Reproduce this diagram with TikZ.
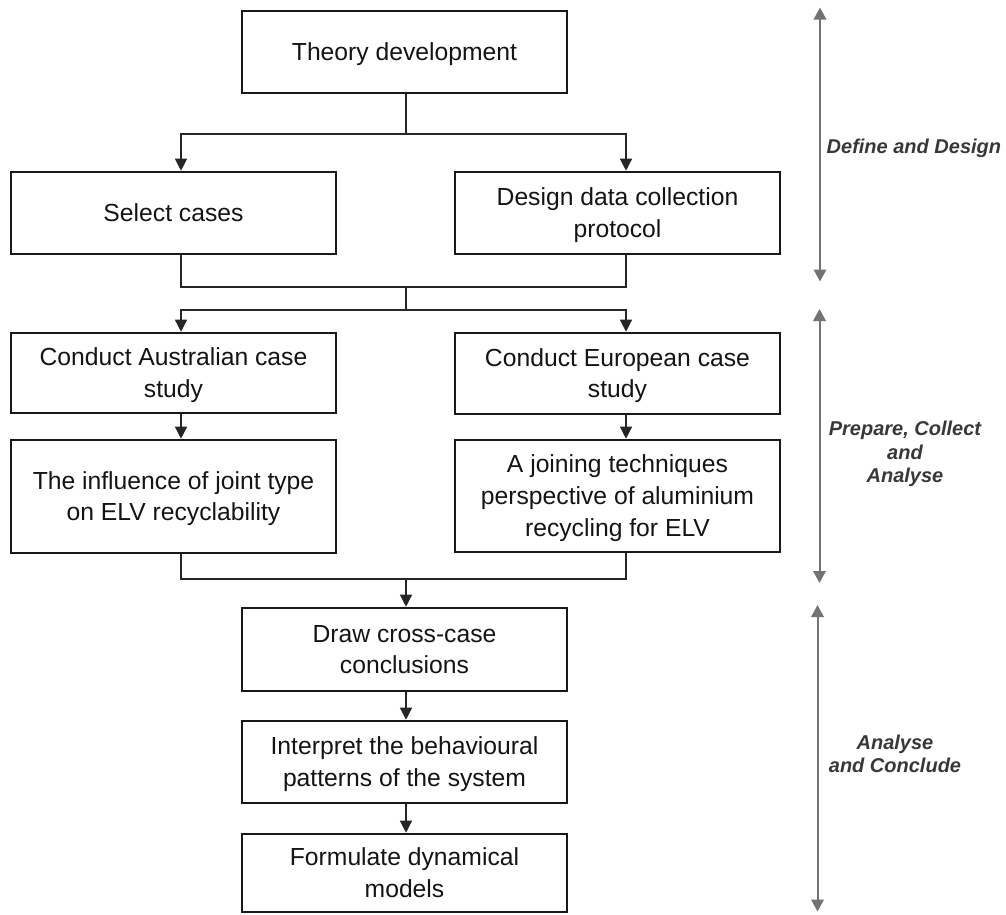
\documentclass[tikz,border=0pt]{standalone}
\usepackage{fontspec}
\setmainfont{Liberation Sans}
\usetikzlibrary{arrows.meta,calc}

% line strut with the font's own ascent and descent
\newcommand\ls{\rule[-5.2pt]{0pt}{27.6pt}}

\begin{document}
\begin{tikzpicture}[x=1pt,y=-1pt,
  stepbox/.style={draw=black!90, line width=2.6pt, align=center,
    font=\fontsize{24.7}{31.7}\selectfont, text=black!92, inner sep=0pt,
    minimum width=325pt},
  link/.style={line width=1.3pt, draw=black!85},
  flow/.style={link, -{Triangle[width=12pt,length=12pt]}},
  phase/.style={draw=black!55, line width=2pt,
    {Triangle[width=12.5pt,length=12pt]}-{Triangle[width=12.5pt,length=12pt]}},
  phasetext/.style={font=\fontsize{20}{23.3}\selectfont\bfseries\itshape,
    text=black!78, align=center, inner sep=0pt}]

\useasboundingbox (0,0) rectangle (1006,914);

% process boxes
\node[stepbox, minimum height=82pt] (theory) at (404.5,52) {\ls Theory development};
\node[stepbox, minimum height=82pt] (sel) at (173.5,213) {\ls Select cases};
\node[stepbox, minimum height=82pt] (design) at (617.5,213) {\ls Design data collection\\\ls protocol};
\node[stepbox, minimum height=80pt] (aus) at (173.5,373) {\ls Conduct Australian case\\\ls study};
\node[stepbox, minimum height=81pt] (euro) at (617.5,373.5) {\ls Conduct European case\\\ls study};
\node[stepbox, minimum height=113pt] (infl) at (173.5,496.5) {\ls The influence of joint type\\\ls on ELV recyclability};
\node[stepbox, minimum height=112pt] (join) at (617.5,496) {\ls A joining techniques\\\ls perspective of aluminium\\\ls recycling for ELV};
\node[stepbox, minimum height=83pt] (cross) at (404.5,649.5) {\ls Draw cross-case\\\ls conclusions};
\node[stepbox, minimum height=82pt] (interp) at (404.5,762) {\ls Interpret the behavioural\\\ls patterns of the system};
\node[stepbox, minimum height=78pt] (form) at (404.5,873) {\ls Formulate dynamical\\\ls models};

% connector columns and split levels
\coordinate (cL) at (181,0);
\coordinate (cR) at (626,0);
\coordinate (cC) at (406,0);
\coordinate (s1) at (0,134);
\coordinate (s2) at (0,287);
\coordinate (s3) at (0,310);
\coordinate (s4) at (0,579);

% theory -> two branches
\draw[link] (theory.south -| cC) -- (cC |- s1);
\draw[flow] (cC |- s1) -| (sel.north -| cL);
\draw[flow] (cC |- s1) -| (design.north -| cR);

% join and split into the case studies
\draw[link] (sel.south -| cL) |- (cR |- s2) -- (design.south -| cR);
\draw[link] (cC |- s2) -- (cC |- s3);
\draw[flow] (cC |- s3) -| (aus.north -| cL);
\draw[flow] (cC |- s3) -| (euro.north -| cR);

% case study columns
\draw[flow] (aus.south -| cL) -- (infl.north -| cL);
\draw[flow] (euro.south -| cR) -- (join.north -| cR);

% merge into the cross-case chain
\draw[link] (infl.south -| cL) |- (cR |- s4) -- (join.south -| cR);
\draw[flow] (cC |- s4) -- (cross.north -| cC);
\draw[flow] (cross.south -| cC) -- (interp.north -| cC);
\draw[flow] (interp.south -| cC) -- (form.north -| cC);

% phase spans
\coordinate (p1a) at (820,7.5);
\coordinate (p1b) at (820,281.5);
\coordinate (p2a) at (819.5,309);
\coordinate (p2b) at (819.5,583);
\coordinate (p3a) at (817.5,605);
\coordinate (p3b) at (817.5,911.5);
\draw[phase] (p1a) -- (p1b);
\draw[phase] (p2a) -- (p2b);
\draw[phase] (p3a) -- (p3b);

\node[phasetext, anchor=base west] (ph1) at (826.5,153) {Define and Design};
\node[phasetext] (ph2) at (905,454) {Prepare, Collect\\and\\Analyse};
\node[phasetext] (ph3) at (895,753.5) {Analyse\\and Conclude};
\end{tikzpicture}
\end{document}
